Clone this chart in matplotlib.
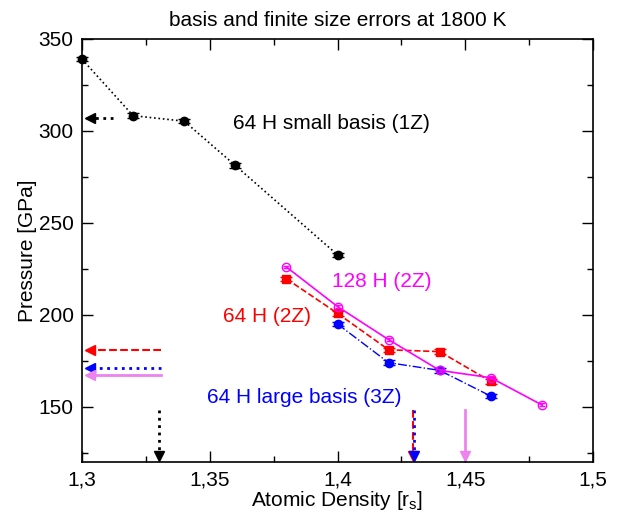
import matplotlib
matplotlib.use("Agg")
import matplotlib.pyplot as plt
from matplotlib.ticker import MultipleLocator, FuncFormatter

plt.rcParams['font.family'] = ['Liberation Sans', 'DejaVu Sans']
plt.rcParams['mathtext.default'] = 'regular'

# 64 H small basis (1Z)
x_1z = [1.30, 1.32, 1.34, 1.36, 1.40]
p_1z = [339, 308.3, 305.3, 281.2, 232.6]

# 64 H (2Z)
x_2z = [1.38, 1.40, 1.42, 1.44, 1.46]
p_2z = [219.6, 200.8, 181.0, 180.0, 163.8]

# 64 H large basis (3Z)
x_3z = [1.40, 1.42, 1.44, 1.46]
p_3z = [195.0, 174.0, 169.8, 155.8]

# 128 H (2Z)
x_128 = [1.38, 1.40, 1.42, 1.44, 1.46, 1.48]
p_128 = [226.0, 204.5, 186.5, 169.8, 165.8, 151.0]

# arrows: pressure (left) and density (bottom) estimates
arrow_p = {'black': 307.0, 'red': 181.0, 'blue': 171.0, 'violet': 167.3}
arrow_x = {'black': 1.33, 'red': 1.43, 'blue': 1.43, 'violet': 1.45}

fig = plt.figure(figsize=(6.18, 5.12), dpi=100)
ax = fig.add_axes([0.1327, 0.0977, 0.8269, 0.8262])

ax.errorbar(x_1z, p_1z, yerr=1.2, color='black', ls=':', lw=1.2, marker='o', ms=6,
            capsize=4, elinewidth=1, clip_on=False, zorder=3)
ax.errorbar(x_2z, p_2z, yerr=1.2, color='red', ls='--', lw=1.2, marker='s', ms=6,
            capsize=4, elinewidth=1, zorder=3)
ax.errorbar(x_3z, p_3z, yerr=1.2, color='blue', ls='-.', lw=1.0, marker='o', ms=6,
            capsize=4, elinewidth=1, zorder=3)
ax.errorbar(x_128, p_128, yerr=0.8, color='#ff00ff', ls='-', lw=1.2, marker='o', ms=6,
            mfc='none', capsize=2, elinewidth=1, zorder=4)

styles = {'black': ('black', ':', 2.0), 'red': ('red', '--', 1.5),
          'blue': ('blue', ':', 2.0), 'violet': ('violet', '-', 2.0)}

# horizontal arrows to the pressure axis
for key, p in arrow_p.items():
    c, ls, lw = styles[key]
    x0 = 1.312 if key == 'black' else 1.331
    ax.plot([x0, 1.303], [p, p], color=c, ls=ls, lw=lw, zorder=2)
    ax.plot([1.303], [p], marker='<', color=c, ms=7, clip_on=False, zorder=2)

# vertical arrows to the density axis
for key, xv in arrow_x.items():
    c, ls, lw = styles[key]
    off = -0.0004 if key == 'red' else 0.0
    ax.plot([xv + off, xv + off], [148, 124], color=c, ls=ls, lw=lw, zorder=2)
    ax.plot([xv + off], [123.2], marker='v', color=c, ms=7, clip_on=False, zorder=2)

ax.text(1.3975, 304, '64 H small basis (1Z)', fontsize=15, ha='center', va='center')
ax.text(1.398, 218, '128 H (2Z)', fontsize=15, color='#ff00ff', ha='left', va='center')
ax.text(1.355, 199, '64 H (2Z)', fontsize=15, color='red', ha='left', va='center')
ax.text(1.349, 155, '64 H large basis (3Z)', fontsize=15, color='blue', ha='left', va='center')

ax.set_xlim(1.3, 1.5)
ax.set_ylim(120, 350)
ax.xaxis.set_major_locator(MultipleLocator(0.05))
ax.xaxis.set_minor_locator(MultipleLocator(0.025))
ax.yaxis.set_major_locator(MultipleLocator(50))
ax.yaxis.set_minor_locator(MultipleLocator(25))
ax.xaxis.set_major_formatter(FuncFormatter(lambda v, pos: f'{v:g}'.replace('.', ',')))
ax.tick_params(which='both', direction='in', top=True, right=True, labelsize=15, width=1)
ax.tick_params(which='major', length=8, pad=6)
ax.tick_params(which='minor', length=4)
for s in ax.spines.values():
    s.set_linewidth(1.2)

ax.set_xlabel('Atomic Density [r$_s$]', fontsize=15, labelpad=0)
ax.set_ylabel('Pressure [GPa]', fontsize=15, labelpad=1)
ax.set_title('basis and finite size errors at 1800 K', fontsize=15, pad=9)

fig.savefig('out.png', dpi=100)
